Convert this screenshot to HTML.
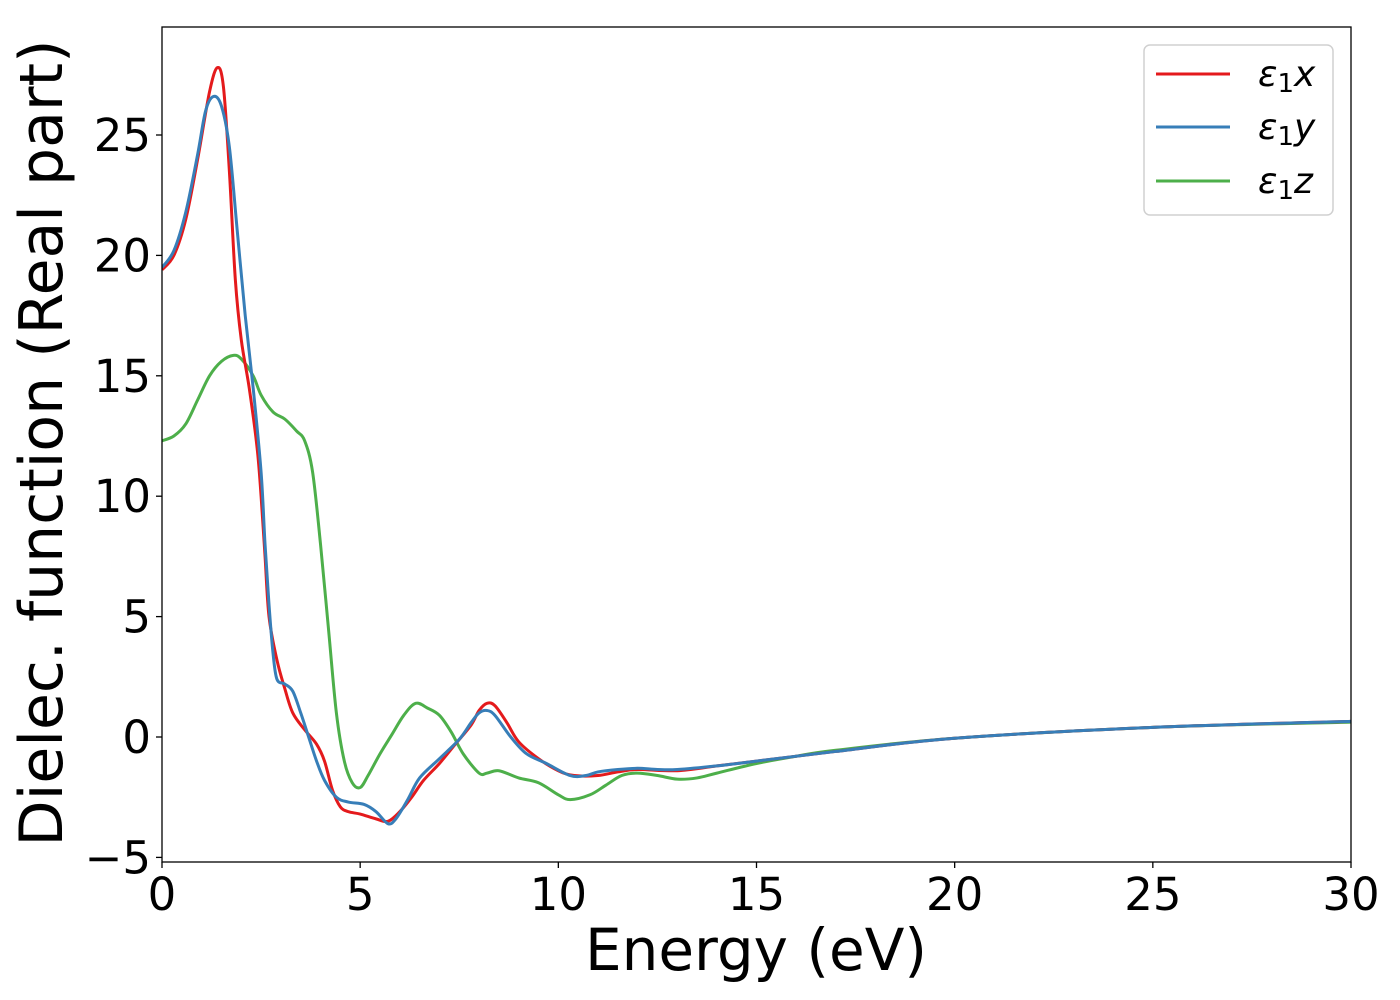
<!DOCTYPE html>
<html><head><meta charset="utf-8"><style>
body{margin:0;background:#fff;}
svg{display:block;font-family:"DejaVu Sans","Liberation Sans",sans-serif;}
</style></head><body>
<svg id="chart" width="1400" height="1000" viewBox="0 0 1400 1000" xmlns="http://www.w3.org/2000/svg">
<rect x="0" y="0" width="1400" height="1000" fill="#fff"/>
<g id="plot"></g>
<g id="axes"></g>
<text x="756" y="970" font-size="58" text-anchor="middle">Energy (eV)</text>
<text transform="translate(62,443) rotate(-90)" font-size="60" text-anchor="middle">Dielec. function (Real part)</text>
<g>
<rect x="1144" y="45" width="189" height="170" rx="6" fill="#fff" stroke="#d0d0d0" stroke-width="1.5"/>
<line x1="1156" y1="74" x2="1230" y2="74" stroke="#e41a1c" stroke-width="3"/>
<text x="1258" y="86" font-size="36" font-style="italic">ε<tspan font-style="normal" font-size="26" dy="6">1</tspan><tspan dy="-6">x</tspan></text>
<line x1="1156" y1="127" x2="1230" y2="127" stroke="#377eb8" stroke-width="3"/>
<text x="1258" y="139" font-size="36" font-style="italic">ε<tspan font-style="normal" font-size="26" dy="6">1</tspan><tspan dy="-6">y</tspan></text>
<line x1="1156" y1="181" x2="1230" y2="181" stroke="#4daf4a" stroke-width="3"/>
<text x="1258" y="193" font-size="36" font-style="italic">ε<tspan font-style="normal" font-size="26" dy="6">1</tspan><tspan dy="-6">z</tspan></text>
</g>
</svg>
<script>
const xTicks=[0,5,10,15,20,25,30];
const yTicks=[-5,0,5,10,15,20,25];
const yTickLabels=["−5","0","5","10","15","20","25"];
const energyX=[0,0.3,0.6,0.9,1.2,1.4,1.55,1.7,1.85,2.0,2.2,2.4,2.5,2.6,2.7,2.9,3.1,3.3,3.6,3.9,4.1,4.3,4.5,4.7,5.0,5.4,5.7,6.0,6.3,6.6,7,7.4,7.8,8.0,8.2,8.4,8.7,9.0,9.5,10,10.4,11,11.5,12,13,14,15,17,20,25,30];
const epsX=[19.4,20,21.5,24,26.8,27.8,27,23.5,19,16.5,14.5,12,10,7.5,5,3.2,2,1,0.3,-0.3,-1,-2.2,-2.9,-3.1,-3.2,-3.4,-3.5,-3.1,-2.5,-1.8,-1.1,-0.3,0.5,1.1,1.4,1.3,0.6,-0.2,-0.9,-1.4,-1.6,-1.6,-1.45,-1.35,-1.4,-1.2,-1.0,-0.6,-0.05,0.4,0.65];
const energyY=[0,0.3,0.6,0.9,1.1,1.3,1.5,1.7,1.9,2.1,2.3,2.5,2.6,2.7,2.8,2.9,3.1,3.3,3.5,3.7,3.9,4.1,4.4,4.7,5.1,5.4,5.7,5.9,6.2,6.5,7,7.5,7.8,8.0,8.2,8.4,8.8,9.2,9.7,10.3,10.7,11,11.5,12,12.5,13,14,15,17,20,25,30];
const epsY=[19.5,20.2,21.8,24.2,26,26.6,26.2,24.5,21,17.5,14.5,11,8,5.5,3.5,2.4,2.2,1.9,1.0,0.0,-1.0,-1.8,-2.5,-2.7,-2.8,-3.1,-3.6,-3.4,-2.6,-1.7,-0.9,-0.1,0.6,1.0,1.1,0.9,0.0,-0.7,-1.1,-1.6,-1.6,-1.45,-1.35,-1.3,-1.35,-1.35,-1.2,-1.0,-0.6,-0.05,0.4,0.65];
const energyZ=[0,0.3,0.6,0.9,1.2,1.5,1.8,2.0,2.3,2.5,2.8,3.1,3.4,3.6,3.8,4.0,4.2,4.4,4.6,4.8,5.0,5.2,5.5,5.8,6.1,6.4,6.7,7.0,7.3,7.6,8.0,8.2,8.5,9.0,9.5,10,10.3,10.8,11.2,11.6,12,12.5,13,13.5,14,15,16,17,20,25,30];
const epsZ=[12.3,12.5,13,14,15,15.6,15.85,15.7,15.0,14.2,13.5,13.2,12.7,12.3,11,8,4.5,1.0,-1,-1.9,-2.1,-1.6,-0.7,0.1,0.9,1.4,1.2,0.9,0.2,-0.7,-1.5,-1.5,-1.4,-1.7,-1.9,-2.4,-2.6,-2.4,-2.0,-1.6,-1.5,-1.6,-1.75,-1.7,-1.5,-1.1,-0.8,-0.55,-0.05,0.4,0.62];

const L=162,R=1351,T=27,B=862;
function sx(e){return L+e*(R-L)/30;}
function sy(v){return 737-v*24.08;}
const NS="http://www.w3.org/2000/svg";
function mk(tag,attrs,parent){const el=document.createElementNS(NS,tag);for(const k in attrs)el.setAttribute(k,attrs[k]);parent.appendChild(el);return el;}
function pathD(xs,ys){
  const p=xs.map((x,i)=>[sx(x),sy(ys[i])]);
  let d="M"+p[0][0]+","+p[0][1];
  for(let i=0;i<p.length-1;i++){
    const p0=p[Math.max(0,i-1)],p1=p[i],p2=p[i+1],p3=p[Math.min(p.length-1,i+2)];
    const c1=[p1[0]+(p2[0]-p0[0])/6,p1[1]+(p2[1]-p0[1])/6];
    const c2=[p2[0]-(p3[0]-p1[0])/6,p2[1]-(p3[1]-p1[1])/6];
    d+=` C${c1[0]},${c1[1]} ${c2[0]},${c2[1]} ${p2[0]},${p2[1]}`;
  }
  return d;
}
const plot=document.getElementById('plot');
const axes=document.getElementById('axes');
const defs=mk('defs',{},plot);
const cp=mk('clipPath',{id:'clip'},defs);
mk('rect',{x:L,y:T,width:R-L,height:B-T},cp);
const series=[[energyZ,epsZ,'#4daf4a','line-eps1z'],[energyX,epsX,'#e41a1c','line-eps1x'],[energyY,epsY,'#377eb8','line-eps1y']];
for(const s of series){
  const el=mk('path',{d:pathD(s[0],s[1]),fill:'none',stroke:s[2],'stroke-width':3,'clip-path':'url(#clip)','stroke-linejoin':'round'},plot);
  
  
}
const frame=mk('rect',{x:L,y:T,width:R-L,height:B-T,fill:'none',stroke:'#000','stroke-width':1.3},axes);


xTicks.forEach(t=>{
  const x=sx(t);
  mk('line',{x1:x,y1:B,x2:x,y2:B+6,stroke:'#000','stroke-width':1.3},axes);
  const tx=mk('text',{x:x,y:B+48,'font-size':45,'text-anchor':'middle'},axes);
  tx.textContent=String(t);
  
  
});
yTicks.forEach((t,i)=>{
  const y=sy(t);
  mk('line',{x1:L-6,y1:y,x2:L,y2:y,stroke:'#000','stroke-width':1.3},axes);
  const tx=mk('text',{x:L-11,y:y+16,'font-size':45,'text-anchor':'end'},axes);
  tx.textContent=yTickLabels[i];
  
  
});
</script>
</body></html>
